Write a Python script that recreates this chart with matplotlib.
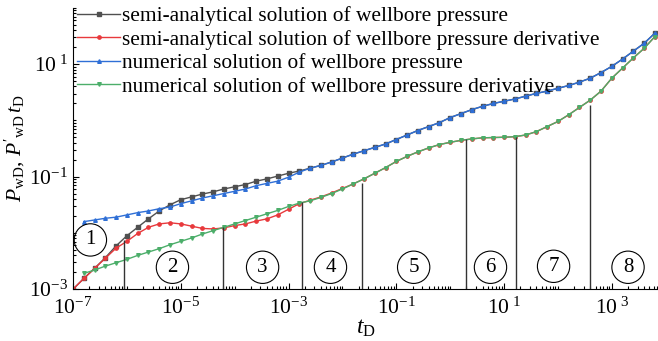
import numpy as np
import matplotlib.pyplot as plt

plt.rcParams['font.family'] = ['Liberation Serif', 'DejaVu Serif']
plt.rcParams['mathtext.fontset'] = 'custom'
plt.rcParams['mathtext.rm'] = 'Liberation Serif'
plt.rcParams['mathtext.it'] = 'Liberation Serif:italic'

# log10(tD) grid, semi-analytical starts at -7.0, numerical at -6.8
log_t = [-7.0, -6.8, -6.6, -6.4, -6.2, -6.0, -5.8, -5.6, -5.4, -5.2, -5.0,
         -4.8, -4.6, -4.4, -4.2, -4.0, -3.8, -3.6, -3.4, -3.2, -3.0,
         -2.8, -2.6, -2.4, -2.2, -2.0, -1.8, -1.6, -1.4, -1.2, -1.0,
         -0.8, -0.6, -0.4, -0.2, 0.0, 0.2, 0.4, 0.6, 0.8, 1.0,
         1.2, 1.4, 1.6, 1.8, 2.0, 2.2, 2.4, 2.6, 2.8, 3.0,
         3.2, 3.4, 3.6, 3.8]

# log10 values
semi_p = [-3.00, -2.81, -2.63, -2.44, -2.23, -2.05, -1.90, -1.75, -1.61, -1.50, -1.41,
          -1.36, -1.31, -1.27, -1.22, -1.18, -1.14, -1.08, -1.04, -0.99, -0.94,
          -0.90, -0.85, -0.80, -0.74, -0.67, -0.60, -0.54, -0.48, -0.42, -0.34,
          -0.26, -0.18, -0.11, -0.04, 0.05, 0.12, 0.19, 0.25, 0.30, 0.34,
          0.38, 0.43, 0.48, 0.52, 0.57, 0.62, 0.68, 0.75, 0.85, 0.96,
          1.09, 1.23, 1.37, 1.55]
semi_dp = [-3.00, -2.81, -2.63, -2.45, -2.27, -2.15, -2.01, -1.90, -1.84, -1.82, -1.84,
           -1.88, -1.92, -1.93, -1.91, -1.87, -1.84, -1.79, -1.75, -1.68, -1.58,
           -1.48, -1.42, -1.36, -1.29, -1.21, -1.13, -1.04, -0.94, -0.84, -0.73,
           -0.64, -0.56, -0.49, -0.43, -0.39, -0.355, -0.33, -0.31, -0.305, -0.30,
           -0.29, -0.26, -0.20, -0.11, -0.02, 0.10, 0.23, 0.36, 0.52, 0.75,
           0.93, 1.11, 1.28, 1.49]
num_p = [-1.80, -1.77, -1.74, -1.72, -1.68, -1.64, -1.61, -1.57, -1.54, -1.48,
         -1.43, -1.38, -1.34, -1.30, -1.26, -1.22, -1.16, -1.12, -1.08, -1.01,
         -0.92, -0.85, -0.80, -0.74, -0.67, -0.60, -0.54, -0.48, -0.42, -0.34,
         -0.26, -0.18, -0.11, -0.04, 0.05, 0.12, 0.19, 0.25, 0.30, 0.34,
         0.38, 0.43, 0.48, 0.52, 0.57, 0.62, 0.68, 0.75, 0.85, 0.96,
         1.09, 1.23, 1.37, 1.55]
num_dp = [-2.72, -2.66, -2.59, -2.53, -2.47, -2.40, -2.34, -2.28, -2.21, -2.15,
          -2.09, -2.02, -1.96, -1.90, -1.84, -1.78, -1.72, -1.66, -1.60, -1.53,
          -1.47, -1.43, -1.37, -1.30, -1.22, -1.13, -1.04, -0.94, -0.84, -0.73,
          -0.64, -0.56, -0.49, -0.43, -0.39, -0.355, -0.33, -0.31, -0.305, -0.30,
          -0.29, -0.26, -0.20, -0.11, -0.02, 0.10, 0.23, 0.36, 0.52, 0.75,
          0.93, 1.11, 1.28, 1.49]

labels = ['semi-analytical solution of wellbore pressure',
          'semi-analytical solution of wellbore pressure derivative',
          'numerical solution of wellbore pressure',
          'numerical solution of wellbore pressure derivative']

# flow regime boundaries (tD) and where each line stops
bound_t = [8.7e-7, 6.2e-5, 1.75e-3, 2.35e-2, 1.95, 17.0, 390.0]
bound_top = [7.5e-3, 1.29e-2, 3.5e-2, 7.8e-2, 0.46, 0.50, 1.9]

regime_names = ['1', '2', '3', '4', '5', '6', '7', '8']
regime_t = [2.1e-7, 7.0e-6, 3.3e-4, 6.0e-3, 0.21, 5.6, 83.0, 2000.0]
regime_y = [7.5e-3, 2.45e-3, 2.45e-3, 2.45e-3, 2.45e-3, 2.45e-3, 2.55e-3, 2.45e-3]

t = 10 ** np.array(log_t)
t_num = t[1:]

fig = plt.figure(figsize=(6.58, 3.41), dpi=100)
ax = fig.add_axes([0.111, 0.152, 0.889, 0.825])

ax.plot(t, 10 ** np.array(semi_p), '-s', color='#505050', lw=1, ms=2.2, label=labels[0])
ax.plot(t, 10 ** np.array(semi_dp), '-o', color='#e8393c', lw=1, ms=2.4, label=labels[1])
ax.plot(t_num, 10 ** np.array(num_p), '-^', color='#2f6fd6', lw=1, ms=2.6, label=labels[2])
ax.plot(t_num, 10 ** np.array(num_dp), '-v', color='#4cae6a', lw=1, ms=2.6, label=labels[3])

ax.vlines(bound_t, 1e-3, bound_top, color='#333333', lw=1)

for name, x, y in zip(regime_names, regime_t, regime_y):
    ax.text(x, y, name, fontsize=15, ha='center', va='center',
            bbox=dict(boxstyle='circle,pad=0.32', fc='none', ec='black', lw=0.8))

ax.set_xscale('log')
ax.set_yscale('log')
ax.set_xlim(1e-7, 7.2e3)
ax.set_ylim(1e-3, 1e2)

ax.set_xticks([1e-7, 1e-5, 1e-3, 1e-1, 1e1, 1e3])
ax.set_xticklabels([r'$10^{-7}$', r'$10^{-5}$', r'$10^{-3}$', r'$10^{-1}$',
                    r'$10^{\ 1}$', r'$10^{\ 3}$'])
ax.set_yticks([1e-3, 1e-1, 1e1])
ax.set_yticklabels([r'$10^{-3}$', r'$10^{-1}$', r'$10^{\ 1}$'])
ax.xaxis.set_minor_locator(plt.LogLocator(base=10, subs=np.arange(1, 10), numticks=30))
ax.yaxis.set_minor_locator(plt.LogLocator(base=10, subs=np.arange(1, 10), numticks=30))
ax.xaxis.set_minor_formatter(plt.NullFormatter())
ax.yaxis.set_minor_formatter(plt.NullFormatter())
ax.tick_params(which='both', direction='in', labelsize=15.5, width=0.8)
ax.tick_params(which='major', length=4)
ax.tick_params(which='minor', length=2.5)
ax.tick_params(axis='x', pad=6)
ax.spines['top'].set_visible(False)
ax.spines['right'].set_visible(False)

ax.set_xlabel(r'$t_{\rm D}$', fontsize=17, labelpad=-1)
ax.set_ylabel(r"$P_{\rm wD}$, $P'_{\rm wD}\,t_{\rm D}$", fontsize=15.5)
ax.yaxis.set_label_coords(-0.078, 0.5)

ax.legend(loc='upper left', bbox_to_anchor=(0.0, 1.02), frameon=False, fontsize=15.4,
          handlelength=2.0, handletextpad=0.1, labelspacing=0.16, borderaxespad=0.1,
          borderpad=0.1)

fig.savefig('out.png', dpi=100)
